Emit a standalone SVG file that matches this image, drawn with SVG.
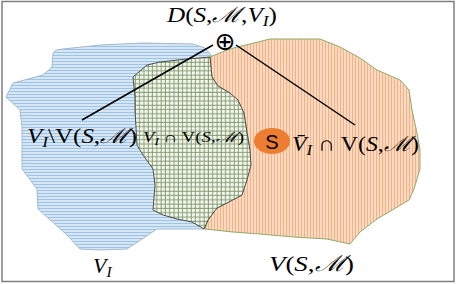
<svg xmlns="http://www.w3.org/2000/svg" width="457" height="284" viewBox="0 0 457 284">
<defs>
<pattern id="hBlue" patternUnits="userSpaceOnUse" width="3" height="3">
<rect width="3" height="3" fill="#DEEAF7"/>
<line x1="0" y1="1.5" x2="3" y2="1.5" stroke="#9DC3E6" stroke-width="1.2"/>
</pattern>
<pattern id="vOrange" patternUnits="userSpaceOnUse" width="3" height="3">
<rect width="3" height="3" fill="#FCE2CF"/>
<line x1="1.5" y1="0" x2="1.5" y2="3" stroke="#F4B183" stroke-width="1.3"/>
</pattern>
<pattern id="gGreen" patternUnits="userSpaceOnUse" width="4.3" height="4.3">
<rect width="4.3" height="4.3" fill="#F4F7F0"/>
<line x1="0" y1="2" x2="4.3" y2="2" stroke="#7A9464" stroke-width="0.9"/>
<line x1="2" y1="0" x2="2" y2="4.3" stroke="#7A9464" stroke-width="0.9"/>
</pattern>
</defs>
<style>
.m{font-family:"Liberation Serif","DejaVu Serif",serif;fill:#000}
.it{font-style:italic}
.sub{font-size:70%}
.conn{stroke:#000;stroke-width:1.5;fill:none}
</style>
<rect x="2" y="1.5" width="452" height="280" fill="#fff" stroke="#7F7F7F" stroke-width="1.5"/>
<g id="V_I">
<path d="M53,53 L56,50 L63,49 L100,45 L143,43 L193,44 L205,48 L212,56 L214,90 L215,200 L205,229 L157,229 L127,249 L100,250 L80,249 L67,235 L38,209 L37,189 L22,169 L22,127 L20,110 L6,97 L13,83 L43,75 L52,67 Z" fill="url(#hBlue)" stroke="#A7B9CC" stroke-width="1" stroke-linejoin="round"/>
</g>
<g id="V_SM">
<path d="M210,57 L227,50 L237,47 L250,44 L270,39 L320,39 L340,47 L360,58 L377,70 L400,80 L409,90 L412,110 L417,133 L420,150 L420,169 L414,189 L409,200 L394,209 L377,219 L360,232 L350,244 L327,239 L294,237 L260,234 L233,232 L205,229 L208,220 L217,208 L227,203 L242,195 L250,150 L244,113 L230,93 L218,86 L212,77 Z" fill="url(#vOrange)" stroke="#8FAA6A" stroke-width="1" stroke-linejoin="round"/>
</g>
<g id="intersection">
<path d="M133,77 L147,65 L160,62 L187,59 L210,57 L212,77 L218,86 L230,93 L238,100 L244,113 L247,133 L250,150 L251,165 L247,180 L242,195 L227,203 L217,208 L208,220 L204,229 L192,222 L177,219 L163,215 L153,210 L155,185 L153,169 L143,155 L137,145 L135,110 L135,97 Z" fill="url(#gGreen)" stroke="#4D4D4D" stroke-width="1" stroke-linejoin="round"/>
</g>
<g id="connectors">
<line class="conn" x1="213" y1="45" x2="82" y2="120"/>
<line class="conn" x1="236" y1="45" x2="355" y2="125"/>
</g>
<g id="D">
<text class="m" x="167" y="22" font-size="21" textLength="110" lengthAdjust="spacingAndGlyphs"><tspan class="it">D</tspan>(<tspan class="it">S</tspan>,<tspan class="it">ℳ</tspan>,<tspan class="it">V</tspan><tspan class="it sub" dy="4">I</tspan><tspan dy="-4">)</tspan></text>
<text x="225" y="50" font-size="25" text-anchor="middle" font-family="DejaVu Sans,sans-serif">⊕</text>
</g>
<g id="label-diff">
<text class="m" x="27" y="143" font-size="21" textLength="110" lengthAdjust="spacingAndGlyphs"><tspan class="it">V</tspan><tspan class="it sub" dy="4">I</tspan><tspan dy="-4">\V(</tspan><tspan class="it">S</tspan>,<tspan class="it">ℳ</tspan>)</text>
</g>
<g id="label-inter">
<text class="m" x="143" y="142" font-size="14.5" textLength="101" lengthAdjust="spacingAndGlyphs"><tspan class="it">V</tspan><tspan class="it sub" dy="3">I</tspan><tspan dy="-3"> ∩ V(</tspan><tspan class="it">S</tspan>,<tspan class="it">ℳ</tspan>)</text>
</g>
<g id="S">
<ellipse cx="272" cy="141" rx="18" ry="13" fill="#ED7D31"/>
<text x="272" y="148.5" font-size="20" text-anchor="middle" font-family="Liberation Sans,sans-serif" fill="#000">S</text>
</g>
<g id="label-comp">
<text class="m" x="292" y="151" font-size="21" textLength="127" lengthAdjust="spacingAndGlyphs"><tspan class="it">V̄</tspan><tspan class="it sub" dy="4">I</tspan><tspan dy="-4"> ∩ V(</tspan><tspan class="it">S</tspan>,<tspan class="it">ℳ</tspan>)</text>
</g>
<g id="label-VI">
<text class="m" x="93" y="273" font-size="22"><tspan class="it">V</tspan><tspan class="it sub" dy="4">I</tspan></text>
</g>
<g id="label-VSM">
<text class="m" x="269" y="271" font-size="22" textLength="85" lengthAdjust="spacingAndGlyphs"><tspan class="it">V</tspan>(<tspan class="it">S</tspan>,<tspan class="it">ℳ</tspan>)</text>
</g>
</svg>
